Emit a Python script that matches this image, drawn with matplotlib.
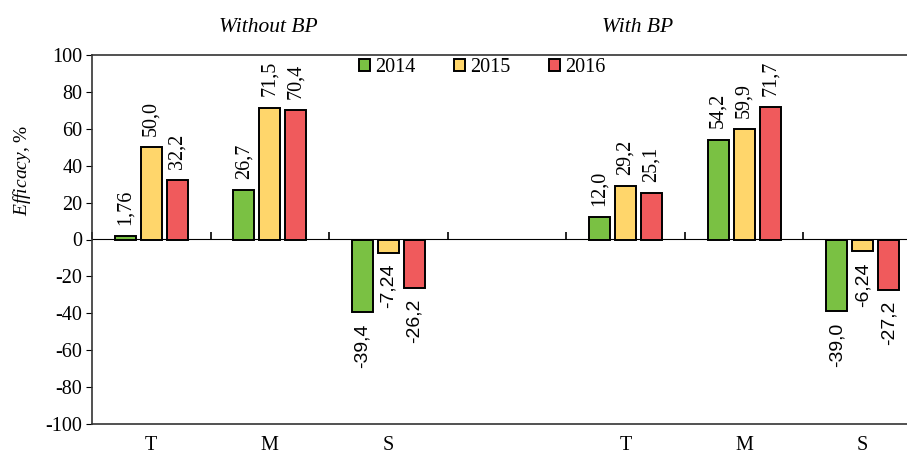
import numpy as np
import matplotlib
matplotlib.use('Agg')
import matplotlib.pyplot as plt

# data (4th slot is the empty gap between panels)
categories = ['T', 'M', 'S', '', 'T', 'M', 'S']
years = ['2014', '2015', '2016']
v2014 = [1.76, 26.7, -39.4, np.nan, 12.0, 54.2, -39.0]
v2015 = [50.0, 71.5, -7.24, np.nan, 29.2, 59.9, -6.24]
v2016 = [32.2, 70.4, -26.2, np.nan, 25.1, 71.7, -27.2]
lab2014 = ['1,76', '26,7', '-39,4', '', '12,0', '54,2', '-39,0']
lab2015 = ['50,0', '71,5', '-7,24', '', '29,2', '59,9', '-6,24']
lab2016 = ['32,2', '70,4', '-26,2', '', '25,1', '71,7', '-27,2']
colors = ['#7AC143', '#FFD66B', '#F05A5C']

plt.rcParams['font.family'] = ['Liberation Serif', 'DejaVu Serif']
plt.rcParams['axes.unicode_minus'] = False
plt.rcParams['mathtext.fontset'] = 'custom'
plt.rcParams['mathtext.rm'] = 'Liberation Serif'
plt.rcParams['mathtext.it'] = 'Liberation Serif:italic'

fig = plt.figure(figsize=(9.07, 4.57), dpi=100)
ax = fig.add_axes([92/907, 1 - 424/457, 830/907, 369/457])

x = np.arange(len(categories))
w = 0.178
step = 0.22
series = [v2014, v2015, v2016]
labels = [lab2014, lab2015, lab2016]
for i in range(3):
    xs = x + (i - 1) * step
    ax.bar(xs, series[i], width=w, color=colors[i], edgecolor='black',
           linewidth=1.4, label=years[i], zorder=3)
    for xi, v, t in zip(xs, series[i], labels[i]):
        if np.isnan(v):
            continue
        if v >= 0:
            ax.annotate(t, (xi, v), xytext=(0, 8), textcoords='offset points',
                        rotation=90, ha='center', va='bottom', fontsize=14.5,
                        family=['Liberation Serif'])
        else:
            ax.annotate(t, (xi, v), xytext=(0, -8), textcoords='offset points',
                        rotation=90, ha='center', va='top', fontsize=14,
                        family=['Liberation Sans'])

ax.set_xlim(-0.5, len(categories) - 0.5)
ax.set_ylim(-100, 100)
ax.set_yticks(np.arange(-100, 101, 20))
ax.tick_params(axis='y', direction='out', length=4, labelsize=14.5, pad=3)
ax.set_xticks(x)
ax.set_xticklabels(categories)
ax.tick_params(axis='x', length=0, labelsize=14.5, pad=9)

for s in ['top', 'bottom', 'left']:
    ax.spines[s].set_color('#333333')
    ax.spines[s].set_linewidth(1.2)
ax.spines['right'].set_visible(False)

# zero line with category separator ticks
sec = ax.secondary_xaxis(0.5)
sec.set_xticks(np.arange(len(categories) + 1) - 0.5)
sec.set_xticklabels([])
sec.tick_params(direction='out', length=5, width=1.2)
sec.spines['bottom'].set_linewidth(1.6)

fig.text(22/907, 1 - 170/457, r'$\it{Efficacy}$, %', rotation=90,
         ha='center', va='center', fontsize=14)
fig.text(268/907, 1 - 27/457, 'Without BP', style='italic',
         ha='center', va='center', fontsize=15.5)
fig.text(638/907, 1 - 27/457, 'With BP', style='italic',
         ha='center', va='center', fontsize=15.5)

ax.legend(loc='center', bbox_to_anchor=(0.47, 0.965), ncol=3, frameon=False,
          fontsize=14.5, handlelength=0.55, handleheight=0.55, handletextpad=0.25,
          columnspacing=1.9, borderaxespad=0)

fig.savefig('out.png', dpi=100)
